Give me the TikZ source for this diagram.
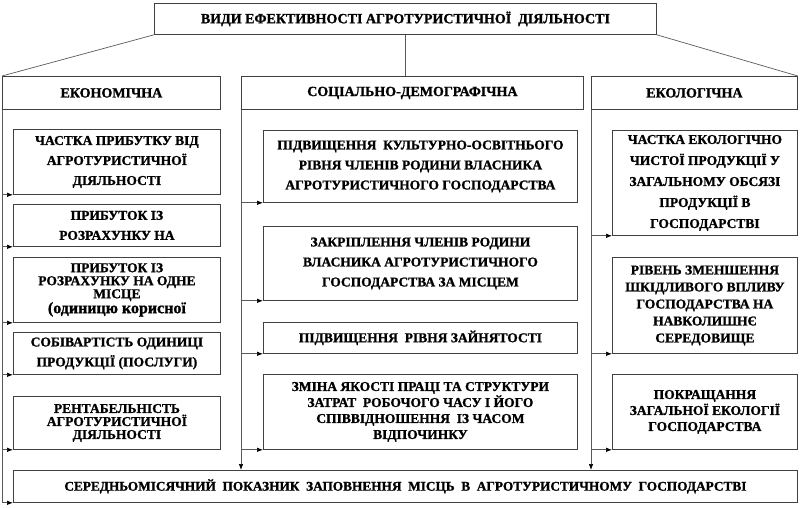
\documentclass[tikz,border=0pt]{standalone}
\usepackage{fontspec}
\setmainfont[BoldFeatures={FakeBold=1.2}]{Liberation Serif}
\usetikzlibrary{arrows,arrows.meta,shapes}
\usetikzlibrary{positioning}
\usetikzlibrary{calc}
\tikzstyle{box}=[draw=black!75,line width=0.8pt,inner sep=0pt,align=center]
\tikzstyle{edge} = [draw,gray!70!black,line width=0.7pt,->,>={Latex[length=6pt,width=4.5pt,color=black]}]
\tikzstyle{plainedge} = [draw,gray!70!black,line width=0.7pt]

\begin{document}
\begin{tikzpicture}[x=1pt,y=-1pt]
  \useasboundingbox (0,0) rectangle (800,508);

  % heading and the three kinds
  \node[box,anchor=north west,minimum width=502,minimum height=31,font=\bfseries\fontsize{14}{16}\selectfont] (top) at (154,3) {ВИДИ ЕФЕКТИВНОСТІ АГРОТУРИСТИЧНОЇ~ ДІЯЛЬНОСТІ};
  \foreach \name/\x/\w/\txt in {econ/2/218/ЕКОНОМІЧНА, soc/241/342/СОЦІАЛЬНО-ДЕМОГРАФІЧНА, eco/591/206/ЕКОЛОГІЧНА}
    \node[box,anchor=north west,minimum width=\w,minimum height=33,font=\bfseries\fontsize{14}{16}\selectfont] (\name) at (\x,76) {\txt};

  % indicators
  \foreach \name/\x/\y/\w/\h/\bs/\txt in {
      e1/13/129/207/65/20/{ЧАСТКА ПРИБУТКУ ВІД\\АГРОТУРИСТИЧНОЇ\\ДІЯЛЬНОСТІ},
      e2/13/204/207/42/20/{ПРИБУТОК ІЗ\\РОЗРАХУНКУ НА},
      e3/13/257/207/65/13/{ПРИБУТОК ІЗ\\РОЗРАХУНКУ НА ОДНЕ\\МІСЦЕ\\{\fontsize{16}{13}\selectfont(одиницю корисної}},
      e4/13/332/207/42/20/{СОБІВАРТІСТЬ ОДИНИЦІ\\ПРОДУКЦІЇ (ПОСЛУГИ)},
      e5/13/396/207/53/13/{РЕНТАБЕЛЬНІСТЬ\\АГРОТУРИСТИЧНОЇ\\ДІЯЛЬНОСТІ},
      s1/263/130/314/72/20/{ПІДВИЩЕННЯ~ КУЛЬТУРНО-ОСВІТНЬОГО\\РІВНЯ ЧЛЕНІВ РОДИНИ ВЛАСНИКА\\АГРОТУРИСТИЧНОГО ГОСПОДАРСТВА},
      s2/263/226/314/74/20/{ЗАКРІПЛЕННЯ ЧЛЕНІВ РОДИНИ\\ВЛАСНИКА АГРОТУРИСТИЧНОГО\\ГОСПОДАРСТВА ЗА МІСЦЕМ},
      s3/263/322/314/31/20/{ПІДВИЩЕННЯ~ РІВНЯ ЗАЙНЯТОСТІ},
      s4/263/374/314/75/16/{ЗМІНА ЯКОСТІ ПРАЦІ ТА СТРУКТУРИ\\ЗАТРАТ~ РОБОЧОГО ЧАСУ І ЙОГО\\СПІВВІДНОШЕННЯ~ ІЗ ЧАСОМ\\ВІДПОЧИНКУ},
      k1/612/130/185/105/21/{ЧАСТКА ЕКОЛОГІЧНО\\ЧИСТОЇ ПРОДУКЦІЇ У\\ЗАГАЛЬНОМУ ОБСЯЗІ\\ПРОДУКЦІЇ В\\ГОСПОДАРСТВІ},
      k2/612/257/185/96/17/{РІВЕНЬ ЗМЕНШЕННЯ\\ШКІДЛИВОГО ВПЛИВУ\\ГОСПОДАРСТВА НА\\НАВКОЛИШНЄ\\СЕРЕДОВИЩЕ},
      k3/612/374/185/75/16/{ПОКРАЩАННЯ\\ЗАГАЛЬНОЇ ЕКОЛОГІЇ\\ГОСПОДАРСТВА}}
    \node[box,anchor=north west,minimum width=\w,minimum height=\h,font=\bfseries\fontsize{13.5}{\bs}\selectfont] (\name) at (\x,\y) {\txt};

  \node[box,anchor=north west,minimum width=784,minimum height=32,font=\bfseries\fontsize{13.3}{15}\selectfont] (bottom) at (13,470) {СЕРЕДНЬОМІСЯЧНИЙ~ ПОКАЗНИК~ ЗАПОВНЕННЯ~ МІСЦЬ~ В~ АГРОТУРИСТИЧНОМУ~ ГОСПОДАРСТВІ};

  % from the heading
  \path[plainedge] (top.south west) -- (econ.north west);
  \path[plainedge] (top.south) -- (top.south |- soc.north);
  \path[plainedge] (top.south east) -- (eco.north east);

  % down the columns
  \foreach \dest in {e1,e2,e3,e4,e5,bottom}
    \path[edge] (econ.south west) |- (\dest.south west);
  \foreach \dest in {s1,s2,s3,s4}
    \path[edge] (soc.south west) |- (\dest.south west);
  \foreach \dest in {k1,k2,k3}
    \path[edge] (eco.south west) |- (\dest.south west);
  \path[edge] (soc.south west) -- (soc.south west |- bottom.north);
  \path[edge] (eco.south west) -- (eco.south west |- bottom.north);

\end{tikzpicture}
\end{document}
